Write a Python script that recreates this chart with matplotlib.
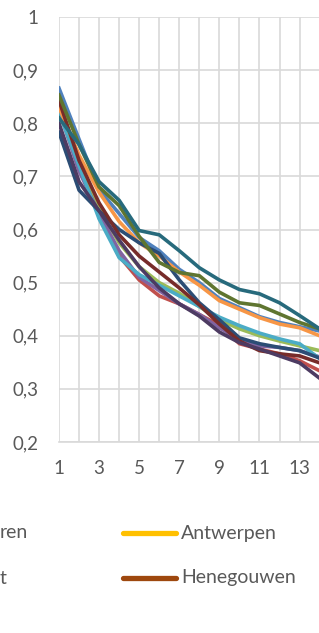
import numpy as np
import matplotlib.pyplot as plt

plt.rcParams['font.family'] = ['Lato', 'DejaVu Sans']

x = np.arange(1, 15)

blauw = [0.866, 0.77, 0.675, 0.63, 0.585, 0.56, 0.525, 0.50, 0.47, 0.453, 0.436, 0.425, 0.417, 0.409]
rood = [0.83, 0.72, 0.625, 0.55, 0.505, 0.475, 0.46, 0.44, 0.42, 0.385, 0.375, 0.366, 0.353, 0.334]
groen = [0.84, 0.73, 0.64, 0.575, 0.53, 0.50, 0.48, 0.455, 0.43, 0.413, 0.40, 0.39, 0.381, 0.372]
paars = [0.825, 0.71, 0.63, 0.56, 0.51, 0.485, 0.46, 0.44, 0.415, 0.394, 0.381, 0.378, 0.372, 0.36]
aqua = [0.82, 0.72, 0.62, 0.547, 0.515, 0.495, 0.475, 0.455, 0.435, 0.419, 0.405, 0.394, 0.385, 0.357]
oranje = [0.83, 0.74, 0.67, 0.615, 0.575, 0.55, 0.52, 0.495, 0.466, 0.45, 0.434, 0.422, 0.415, 0.40]
donkerblauw = [0.783, 0.674, 0.635, 0.60, 0.575, 0.555, 0.505, 0.462, 0.43, 0.396, 0.385, 0.378, 0.372, 0.358]
donkerrood = [0.843, 0.73, 0.65, 0.59, 0.55, 0.52, 0.49, 0.458, 0.422, 0.39, 0.372, 0.366, 0.362, 0.349]
olijf = [0.853, 0.76, 0.68, 0.645, 0.587, 0.538, 0.519, 0.513, 0.482, 0.462, 0.457, 0.441, 0.425, 0.413]
donkerpaars = [0.80, 0.69, 0.635, 0.58, 0.53, 0.49, 0.46, 0.437, 0.407, 0.387, 0.375, 0.362, 0.349, 0.32]
petrol = [0.81, 0.76, 0.69, 0.655, 0.598, 0.59, 0.56, 0.528, 0.505, 0.487, 0.479, 0.462, 0.438, 0.413]

reeksen = [blauw, rood, groen, paars, aqua, oranje, donkerblauw, donkerrood, olijf, donkerpaars, petrol]
kleuren = ['#4F81BD', '#C0504D', '#9BBB59', '#8064A2', '#4BACC6', '#F79646',
           '#2C4D75', '#772C2A', '#5F7530', '#4D3B62', '#276A7C']

yticks = [0.2, 0.3, 0.4, 0.5, 0.6, 0.7, 0.8, 0.9, 1.0]
ylabels = ['0,2', '0,3', '0,4', '0,5', '0,6', '0,7', '0,8', '0,9', '1']
xticks = [1, 3, 5, 7, 9, 11, 13]

fig = plt.figure(figsize=(3.19, 6.33), dpi=100)
ax = fig.add_axes([59/319, (633-442)/633, 1 - 59/319 + 0.002, (442-17)/633])

for reeks, kleur in zip(reeksen, kleuren):
    ax.plot(x, reeks, color=kleur, lw=2.6, solid_joinstyle='round', zorder=3)

ax.set_xlim(1, 14)
ax.set_ylim(0.2, 1.0)
ax.set_xticks(np.arange(1, 15))
ax.set_xticklabels([str(v) if v in xticks else '' for v in range(1, 15)])
ax.set_yticks(yticks)
ax.set_yticklabels(ylabels)
ax.grid(True, color='#D9D9D9', lw=1.2)
ax.set_axisbelow(True)
for s in ['top', 'right', 'left']:
    ax.spines[s].set_visible(False)
ax.spines['bottom'].set_color('#D9D9D9')
ax.spines['bottom'].set_linewidth(1.2)
ax.tick_params(length=0, labelsize=13.5, labelcolor='#595959')
ax.tick_params(axis='y', pad=15)
ax.tick_params(axis='x', pad=13)

# legend, left column is cut off in the picture
fig.text(28/319, 1 - 533/633, 'ren', ha='right', va='center', fontsize=14, color='#595959')
fig.text(7/319, 1 - 578/633, 't', ha='right', va='center', fontsize=14, color='#595959')
fig.lines.append(plt.Line2D([123/319, 176/319], [1 - 533/633] * 2, transform=fig.transFigure,
                            color='#FFC000', lw=3.8, solid_capstyle='round'))
fig.lines.append(plt.Line2D([123/319, 176/319], [1 - 578/633] * 2, transform=fig.transFigure,
                            color='#9E480E', lw=3.8, solid_capstyle='round'))
fig.text(181/319, 1 - 533/633, 'Antwerpen', ha='left', va='center', fontsize=14, color='#595959')
fig.text(181/319, 1 - 578/633, 'Henegouwen', ha='left', va='center', fontsize=14, color='#595959')

fig.savefig('out.png', dpi=100)
